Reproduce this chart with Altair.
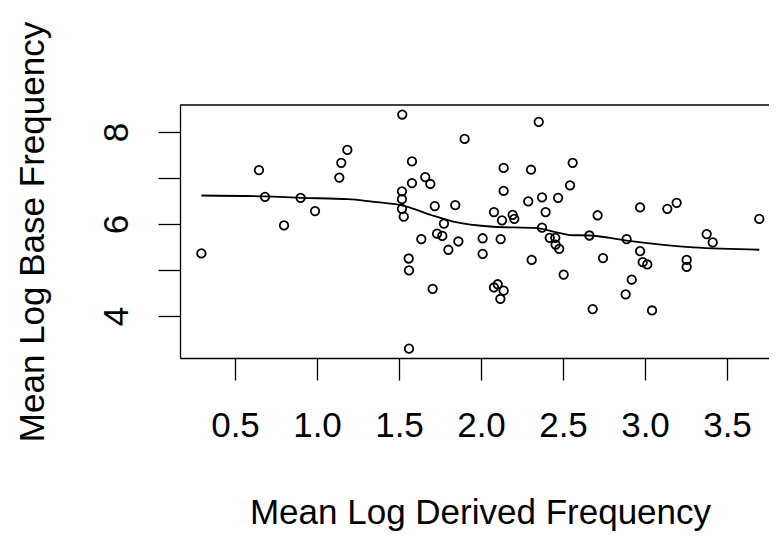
import altair as alt
import pandas as pd

# scatter points (Mean Log Derived Frequency, Mean Log Base Frequency)
px = [0.295, 0.646, 0.683, 0.799, 0.900, 0.988, 1.136, 1.148, 1.185, 1.520,
      1.518, 1.518, 1.518, 1.529, 1.559, 1.561, 1.561, 1.579, 1.579, 1.636,
      1.660, 1.691, 1.705, 1.718, 1.732, 1.764, 1.774, 1.801, 1.843, 1.862,
      1.900, 2.010, 2.010, 2.079, 2.079, 2.102, 2.118, 2.120, 2.128, 2.138,
      2.138, 2.138, 2.193, 2.203, 2.288, 2.305, 2.309, 2.352, 2.372, 2.372,
      2.394, 2.419, 2.453, 2.455, 2.470, 2.477, 2.504, 2.543, 2.559, 2.661,
      2.681, 2.711, 2.744, 2.882, 2.888, 2.919, 2.970, 2.970, 2.986, 3.014,
      3.043, 3.136, 3.193, 3.254, 3.254, 3.376, 3.413, 3.697]
py = [5.36, 7.17, 6.59, 5.97, 6.57, 6.28, 7.01, 7.33, 7.61, 8.38,
      6.71, 6.54, 6.33, 6.16, 5.25, 4.99, 3.29, 7.36, 6.89, 5.67,
      7.02, 6.87, 4.59, 6.39, 5.79, 5.74, 6.01, 5.44, 6.41, 5.62,
      7.85, 5.69, 5.35, 6.26, 4.62, 4.69, 4.37, 5.67, 6.08, 7.22,
      6.72, 4.55, 6.20, 6.11, 6.49, 7.18, 5.22, 8.22, 6.58, 5.92,
      6.26, 5.70, 5.70, 5.55, 6.57, 5.46, 4.90, 6.84, 7.33, 5.75,
      4.15, 6.19, 5.26, 4.47, 5.67, 4.79, 6.36, 5.41, 5.17, 5.12,
      4.12, 6.33, 6.46, 5.22, 5.07, 5.78, 5.60, 6.11]

# smoothed (lowess) curve
lx = [0.295, 0.683, 0.900, 1.189, 1.323, 1.547, 1.700, 1.831, 2.075, 2.339,
      2.482, 2.543, 2.665, 2.888, 3.295, 3.697]
ly = [6.62, 6.60, 6.57, 6.54, 6.49, 6.38, 6.19, 6.05, 5.94, 5.91,
      5.80, 5.76, 5.75, 5.64, 5.49, 5.44]

x_ticks = [0.5, 1.0, 1.5, 2.0, 2.5, 3.0, 3.5]
y_ticks = [4, 5, 6, 7, 8]

pts = pd.DataFrame({"x": px, "y": py})
smooth = pd.DataFrame({"x": lx, "y": ly})

W, H = 589, 253
FONT = "Liberation Sans"
FS = 35

xscale = alt.Scale(domain=[0.1646, 3.7561], nice=False, zero=False)
yscale = alt.Scale(domain=[3.087, 8.587], nice=False, zero=False)

xaxis = alt.Axis(values=x_ticks, format=".1f", title="Mean Log Derived Frequency",
                 labelAlign="center", labelBaseline="alphabetic", labelPadding=56,
                 labelFlush=False, labelOverlap=False,
                 titleX=300, titleY=165, titleAlign="center", titleBaseline="alphabetic")
yaxis = alt.Axis(values=y_ticks, title="Mean Log Base Frequency",
                 labelExpr="datum.value % 2 == 0 ? datum.label : ''",
                 labelAngle=270, labelAlign="center", labelBaseline="alphabetic",
                 labelPadding=31, labelFlush=False, labelOverlap=False,
                 titleAngle=270, titleX=-137, titleY=126.5, titleAlign="center",
                 titleBaseline="alphabetic")

points = alt.Chart(pts).mark_point(shape="circle", filled=False, color="black",
                                   size=72, strokeWidth=1.8, opacity=1).encode(
    x=alt.X("x:Q", scale=xscale, axis=xaxis),
    y=alt.Y("y:Q", scale=yscale, axis=yaxis),
)

line = alt.Chart(smooth).mark_line(color="black", strokeWidth=1.8, interpolate="monotone").encode(
    x=alt.X("x:Q", scale=xscale, axis=xaxis),
    y=alt.Y("y:Q", scale=yscale, axis=yaxis),
)

top = alt.Chart(pd.DataFrame({"a": [0]})).mark_rule(color="black", strokeWidth=1.3).encode(
    x=alt.value(0), x2=alt.value(W), y=alt.value(0)
)

chart = alt.layer(points, line, top).properties(
    width=W, height=H,
    autosize=alt.AutoSizeParams(type="none"),
    padding={"left": 172, "top": 97, "right": 0, "bottom": 173},
).configure_view(stroke=None).configure_axis(
    grid=False, domainColor="black", domainWidth=1.3, tickColor="black",
    tickWidth=1.3, tickSize=22, labelFont=FONT, labelFontSize=FS, labelColor="black",
    titleFont=FONT, titleFontSize=FS, titleFontWeight="normal", titleColor="black",
)

chart.save("out.html", embed_options={"renderer": "svg", "actions": False})
